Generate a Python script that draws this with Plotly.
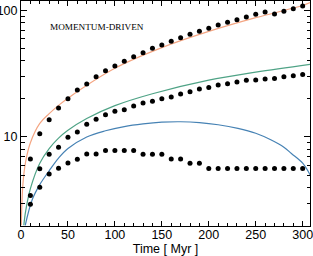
import plotly.graph_objects as go

# ---- data ----
t_dots = [10, 20, 30, 40, 50, 60, 70, 80, 90, 100, 110, 120, 130, 140, 150,
          160, 170, 180, 190, 200, 210, 220, 230, 240, 250, 260, 270, 280, 290, 300]
top_dots = [6.7, 10.6, 13.7, 17.0, 20.1, 23.6, 26.3, 30.0, 33.5, 36.5, 39.7, 43.2, 46.5, 50.4, 53.5,
            57.2, 61.1, 65.0, 68.7, 72.6, 77.0, 81.0, 84.9, 89.1, 93.7, 97.7, 94.2, 98.9, 103.7, 109.0]
mid_dots = [3.44, 5.6, 7.3, 8.3, 9.95, 10.96, 12.6, 13.8, 15.0, 16.0, 16.4, 17.6, 18.6, 19.2, 20.1,
            20.7, 21.9, 22.8, 24.0, 24.6, 25.8, 26.4, 27.3, 28.1, 28.3, 28.8, 29.0, 30.0, 30.6, 31.2]
low_dots = [2.93, 4.0, 5.09, 5.65, 6.22, 6.66, 7.33, 7.33, 7.83, 7.83, 7.83, 7.83, 7.30, 7.30, 7.30,
            6.7, 6.7, 6.19, 6.19, 5.63, 5.63, 5.63, 5.63, 5.63, 5.63, 5.63, 5.63, 5.63, 5.63, 5.63]

orange_t = [0.3, 2, 5, 10, 20, 30, 40, 50, 100, 150, 200, 250, 300, 308]
orange_v = [2.0, 4.2, 6.4, 9.0, 12.8, 15.3, 17.8, 20.3, 35.0, 51.0, 68.5, 88.0, 110.0, 116.0]

green_t = [3, 5, 10, 20, 30, 40, 50, 70, 100, 140, 200, 250, 308]
green_v = [2.0, 2.6, 3.9, 6.2, 8.1, 9.8, 11.3, 14.0, 17.7, 22.0, 28.2, 32.6, 37.6]

blue_t = [4.5, 12, 20, 30, 40, 50, 70, 90, 110, 130, 150, 170, 190, 210, 231, 250, 266, 280, 288, 300, 308]
blue_v = [2.0, 3.2, 4.2, 5.4, 6.8, 8.1, 10.0, 11.2, 12.1, 12.7, 13.1, 13.2, 13.0, 12.5, 11.7, 10.7, 9.5,
          8.3, 7.4, 6.2, 5.0]

x_ticks = [0, 50, 100, 150, 200, 250, 300]
y_ticks = [10, 100]
y_minor = [2, 3, 4, 5, 6, 7, 8, 9, 20, 30, 40, 50, 60, 70, 80, 90]

FONT = "Liberation Sans, Arial, sans-serif"

fig = go.Figure()
fig.add_trace(go.Scatter(x=orange_t, y=orange_v, mode="lines", line=dict(color="#F4A582", width=1.2, shape="spline")))
fig.add_trace(go.Scatter(x=green_t, y=green_v, mode="lines", line=dict(color="#4FA386", width=1.2, shape="spline")))
fig.add_trace(go.Scatter(x=blue_t, y=blue_v, mode="lines", line=dict(color="#4682B4", width=1.2, shape="spline")))
for d in (top_dots, mid_dots, low_dots):
    fig.add_trace(go.Scatter(x=t_dots, y=d, mode="markers", marker=dict(color="black", size=5)))

axis_common = dict(showline=True, linecolor="black", linewidth=1, mirror="allticks", automargin=False,
                   ticks="inside", tickcolor="black", tickwidth=1, showgrid=False, zeroline=False,
                   ticklabeloverflow="allow",
                   tickfont=dict(family=FONT, size=12.5, color="black"))

fig.update_xaxes(range=[0, 307.8], tickvals=x_ticks, ticklen=5, ticklabelstandoff=-3,
                 minor=dict(ticks="inside", dtick=10, ticklen=3, tickcolor="black"),
                 title=dict(text="Time [ Myr ]", standoff=0, font=dict(family=FONT, size=12.5, color="black")),
                 **axis_common)
fig.update_yaxes(type="log", range=[0.2953, 2.0767], tickvals=y_ticks, ticklen=6,
                 minor=dict(ticks="inside", tickvals=y_minor, ticklen=3.5, tickcolor="black"),
                 **axis_common)

fig.add_annotation(text="MOMENTUM-DRIVEN", xref="paper", yref="paper", x=0.264, y=0.886,
                   xanchor="center", yanchor="middle", showarrow=False,
                   font=dict(family="Liberation Serif, Times New Roman, serif", size=9.2, color="black"))

fig.update_layout(width=313, height=256, margin=dict(l=21, r=3, t=1, b=30),
                  paper_bgcolor="white", plot_bgcolor="white", showlegend=False)

fig.write_html("out.html", config={"displayModeBar": False},
               post_script="document.body.style.margin='0';document.body.style.overflow='hidden';")
